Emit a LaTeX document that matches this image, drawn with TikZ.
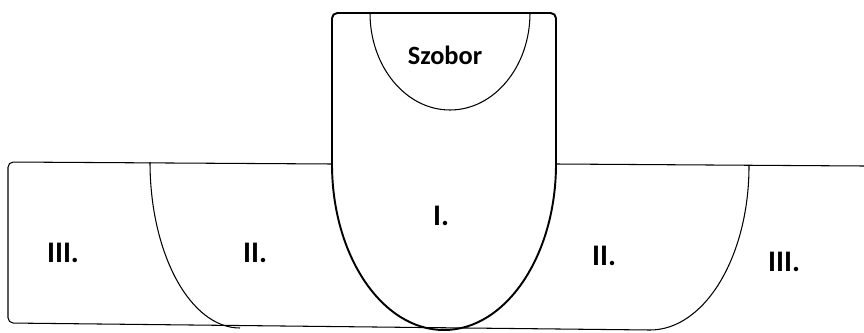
\documentclass[tikz,border=0pt]{standalone}
\usepackage{fontspec}
\setmainfont{Carlito}
\usepackage{tikz}
\usetikzlibrary{calc,positioning}

\begin{document}
\begin{tikzpicture}[x=0.2mm, y=0.2mm,
  zone/.style={font=\bfseries\fontsize{17}{20}\selectfont},
  wall/.style={line width=1.1pt},
  border/.style={line width=0.6pt}]
\useasboundingbox (0,0) rectangle (864,332);

% Statue area
\draw[wall, rounded corners=3] (332,168) -- (332,319) -- (556,319) -- (556,168);
\draw[border] (370,319) arc[start angle=180, end angle=360, x radius=80, y radius=97];

% Zone I
\draw[wall] (332,168) arc[start angle=180, end angle=360, x radius=112, y radius=166];

% Outer frame
\draw[border, rounded corners=3] (332,168) -- (8,170) -- (8,9) -- (650,2);
\draw[border] (556,168) -- (864,166);

% Zone II
\draw[border] (150,170) arc[start angle=180, end angle=270, x radius=90, y radius=166];
\draw[border] (749,166) arc[start angle=0, end angle=-90, x radius=99, y radius=164];

% Labels
\node[font=\bfseries\fontsize{15}{18}\selectfont] (szobor) at (445,277) {Szobor};
\node[zone] (zoneI) at (441,116) {I.};
\node[zone] (zoneIIleft) at (255,79) {II.};
\node[zone] (zoneIIright) at (604,76) {II.};
\node[zone] (zoneIIIleft) at (63,79) {III.};
\node[zone] (zoneIIIright) at (784,70) {III.};

\end{tikzpicture}
\end{document}
